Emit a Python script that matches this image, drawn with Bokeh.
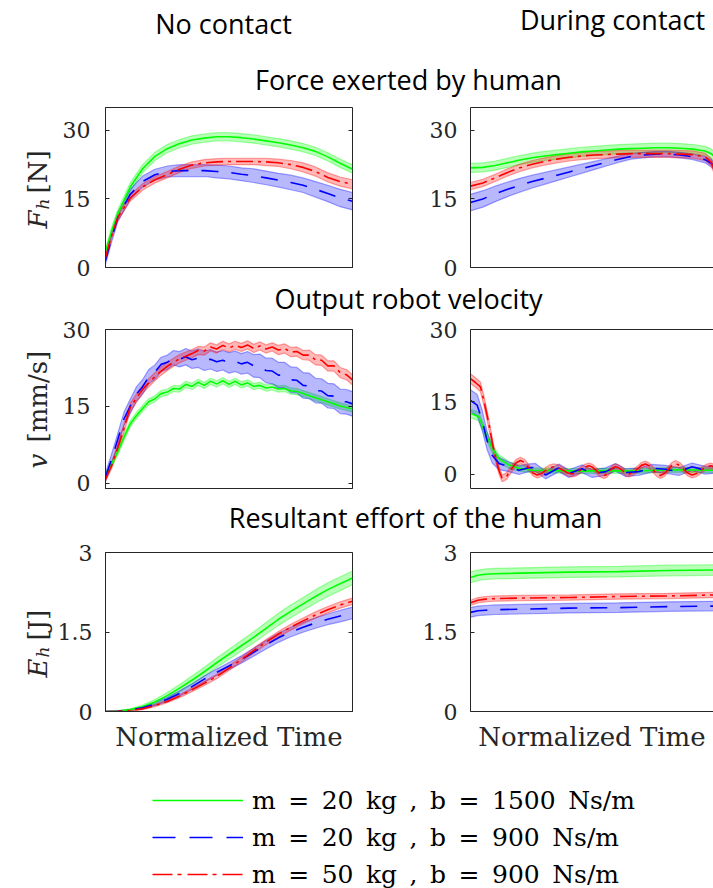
import math
from bokeh.plotting import figure
from bokeh.layouts import row, column
from bokeh.models import (Range1d, LinearAxis, FixedTicker, CustomJSTickFormatter,
                          Legend, LegendItem)
from bokeh.core.properties import value
from bokeh.embed import file_html
from bokeh.resources import INLINE

# ---------------- data ----------------
# Force exerted by human, no contact
F_NC_X = [0, 0.025, 0.05, 0.1, 0.15, 0.2, 0.25, 0.3, 0.35, 0.4, 0.45, 0.5, 0.55, 0.6,
          0.65, 0.7, 0.75, 0.8, 0.85, 0.9, 0.95, 1.0]
F_NC_G = [3.5, 8.0, 11.8, 17.6, 21.6, 24.3, 26.0, 27.1, 27.9, 28.3, 28.6, 28.6, 28.4, 28.1,
          27.7, 27.3, 26.8, 26.2, 25.4, 24.2, 22.8, 21.5]
F_NC_G_SD = [0.6, 0.8, 0.9, 0.9, 0.9, 0.9, 0.9, 0.9, 0.9, 0.9, 0.9, 0.9, 0.9, 0.9,
             0.9, 0.9, 0.9, 0.9, 0.9, 0.9, 0.9, 0.9]
F_NC_B = [1.5, 6.5, 11.0, 16.0, 18.8, 20.3, 21.0, 21.2, 21.2, 21.2, 21.0, 20.8, 20.4, 20.1,
          19.6, 19.1, 18.6, 18.0, 17.1, 16.2, 15.2, 14.5]
F_NC_B_SD = [0.8, 0.9, 1.0, 1.1, 1.2, 1.2, 1.2, 1.3, 1.3, 1.3, 1.4, 1.4, 1.4, 1.5,
             1.5, 1.5, 1.6, 1.6, 1.7, 1.8, 1.9, 1.9]
F_NC_R = [2.2, 7.0, 11.0, 15.2, 17.6, 19.2, 20.3, 21.5, 22.4, 22.9, 23.1, 23.2, 23.2, 23.2,
          23.1, 22.9, 22.5, 21.9, 21.0, 19.7, 18.8, 18.2]
F_NC_R_SD = [0.5, 0.6, 0.7, 0.7, 0.7, 0.7, 0.7, 0.7, 0.7, 0.7, 0.7, 0.7, 0.7, 0.7,
             0.8, 0.8, 0.9, 1.0, 1.0, 1.0, 1.0, 1.0]

# Force exerted by human, during contact
F_C_X = [0, 0.05, 0.1, 0.15, 0.2, 0.25, 0.3, 0.35, 0.4, 0.45, 0.5, 0.55, 0.6, 0.65,
         0.7, 0.75, 0.8, 0.85, 0.9, 0.95, 0.975, 1.0]
F_C_G = [21.8, 21.9, 22.3, 22.9, 23.5, 24.0, 24.4, 24.7, 25.0, 25.3, 25.5, 25.7, 25.9, 26.0,
         26.1, 26.2, 26.2, 26.1, 25.9, 25.5, 24.9, 23.5]
F_C_G_SD = [1.0, 1.0, 1.0, 1.0, 1.0, 1.0, 1.0, 1.0, 1.0, 1.0, 1.0, 1.0, 1.0, 1.0,
            1.0, 1.0, 1.0, 1.0, 1.0, 1.0, 1.0, 1.0]
F_C_B = [14.2, 15.0, 16.1, 17.1, 18.0, 18.8, 19.5, 20.2, 20.9, 21.6, 22.3, 23.0, 23.7, 24.3,
         24.6, 24.8, 24.8, 24.6, 24.2, 23.6, 22.8, 21.5]
F_C_B_SD = [1.8, 1.8, 1.7, 1.6, 1.5, 1.4, 1.3, 1.2, 1.1, 1.0, 0.9, 0.8, 0.7, 0.6,
            0.6, 0.6, 0.6, 0.6, 0.6, 0.7, 0.8, 0.9]
F_C_R = [17.8, 18.5, 19.6, 20.8, 21.8, 22.6, 23.2, 23.7, 24.1, 24.4, 24.6, 24.7, 24.8, 24.9,
         24.9, 24.9, 24.9, 24.8, 24.7, 24.2, 23.0, 19.5]
F_C_R_SD = [0.8, 0.8, 0.8, 0.8, 0.8, 0.8, 0.8, 0.8, 0.8, 0.8, 0.8, 0.8, 0.8, 0.8,
            0.8, 0.8, 0.8, 0.8, 0.8, 0.8, 0.8, 0.8]

# Output robot velocity, no contact
V_NC_X = [0, 0.025, 0.05, 0.075, 0.1, 0.125, 0.15, 0.175, 0.2, 0.225, 0.25, 0.275, 0.3,
          0.325, 0.35, 0.375, 0.4, 0.425, 0.45, 0.475, 0.5, 0.525, 0.55, 0.575, 0.6,
          0.625, 0.65, 0.675, 0.7, 0.725, 0.75, 0.775, 0.8, 0.825, 0.85, 0.875, 0.9,
          0.925, 0.95, 0.975, 1.0]
V_NC_G = [1.5, 3.8, 6.2, 9.0, 11.6, 13.2, 14.6, 15.9, 16.5, 17.5, 17.8, 18.5, 18.4,
          19.3, 18.9, 19.7, 19.1, 19.9, 19.4, 20.0, 19.3, 19.9, 19.2, 19.6, 18.9,
          19.1, 18.6, 18.8, 18.4, 18.5, 18.0, 17.9, 17.5, 17.1, 16.7, 16.3, 15.9,
          15.5, 15.1, 14.8, 14.5]
V_NC_G_SD = [0.5, 0.6, 0.6, 0.6, 0.6, 0.6, 0.6, 0.6, 0.6, 0.6, 0.6, 0.6, 0.6,
             0.6, 0.6, 0.6, 0.6, 0.6, 0.6, 0.6, 0.6, 0.6, 0.6, 0.6, 0.6,
             0.6, 0.6, 0.6, 0.6, 0.6, 0.6, 0.6, 0.6, 0.6, 0.6, 0.6, 0.6,
             0.6, 0.6, 0.6, 0.6]
V_NC_B = [1.2, 4.8, 8.6, 12.6, 15.0, 17.4, 18.8, 20.8, 21.7, 23.2, 23.6, 24.5, 24.2,
          24.7, 24.1, 24.4, 23.9, 24.2, 23.7, 24.0, 23.5, 23.8, 23.3, 23.6, 22.9,
          22.9, 22.0, 21.9, 21.1, 21.1, 20.2, 20.1, 19.1, 19.0, 18.1, 18.0, 17.1,
          17.0, 16.0, 15.9, 15.5]
V_NC_B_SD = [0.8, 1.0, 1.2, 1.3, 1.4, 1.4, 1.4, 1.4, 1.4, 1.4, 1.4, 1.4, 1.5,
             1.6, 1.7, 1.8, 1.9, 1.9, 1.9, 1.9, 2.0, 2.0, 2.0, 2.1, 2.2,
             2.3, 2.4, 2.5, 2.5, 2.5, 2.5, 2.5, 2.5, 2.5, 2.4, 2.4, 2.4,
             2.4, 2.4, 2.4, 2.4]
V_NC_R = [0.8, 3.5, 7.0, 10.8, 14.8, 16.6, 18.3, 19.6, 20.8, 21.9, 22.8, 23.6, 24.3,
          24.8, 25.3, 25.9, 25.8, 26.6, 26.2, 26.9, 26.4, 26.9, 26.5, 27.0, 26.3,
          26.8, 26.2, 26.6, 26.0, 26.3, 25.6, 25.7, 25.0, 25.0, 24.1, 24.0, 22.9,
          22.9, 21.6, 21.2, 20.2]
V_NC_R_SD = [0.4, 0.6, 0.7, 0.8, 0.8, 0.8, 0.8, 0.8, 0.8, 0.8, 0.8, 0.8, 0.8,
             0.8, 0.8, 0.8, 0.8, 0.8, 0.8, 0.8, 0.8, 0.8, 0.8, 0.8, 0.8,
             0.8, 0.8, 0.8, 0.9, 0.9, 0.9, 0.9, 0.9, 1.0, 1.0, 1.0, 1.0,
             1.0, 1.0, 1.0, 1.0]

# Output robot velocity, during contact
V_C_G_X = [0, 0.034, 0.061, 0.088, 0.115, 0.155, 0.196, 0.25, 0.35, 0.45, 0.55, 0.65,
           0.75, 0.85, 0.95, 1.0]
V_C_G = [12.6, 11.9, 8.4, 5.3, 3.2, 1.9, 1.2, 0.8, 0.7, 0.6, 0.7, 0.6, 0.8, 0.9, 0.8, 0.8]
V_C_G_SD = [0.9, 0.9, 0.9, 0.9, 0.8, 0.7, 0.6, 0.5, 0.5, 0.5, 0.5, 0.5, 0.5, 0.5, 0.5, 0.5]
V_C_B_X = [0, 0.027, 0.047, 0.067, 0.088, 0.115, 0.155, 0.196, 0.236, 0.263, 0.304, 0.358,
           0.398, 0.452, 0.493, 0.547, 0.587, 0.628, 0.681, 0.735, 0.789, 0.843, 0.897,
           0.951, 1.0]
V_C_B = [15.3, 14.3, 11.2, 7.0, 3.9, 2.2, 1.5, 0.8, 1.3, 1.4, -0.2, 1.3, 0.1, 1.1, 0.1,
         0.5, 1.4, 0.3, 0.5, 1.2, 1.0, 0.5, 1.5, 0.8, 1.0]
V_C_B_SD = [2.2, 2.2, 2.1, 1.9, 1.6, 1.3, 1.0, 0.9, 0.8, 0.8, 0.8, 0.8, 0.8, 0.8, 0.8,
            0.8, 0.8, 0.8, 0.8, 0.8, 0.8, 0.8, 0.8, 0.8, 0.8]
V_C_R_X = [0, 0.02, 0.04, 0.054, 0.074, 0.094, 0.115, 0.128, 0.147, 0.165, 0.184, 0.202,
           0.22, 0.236, 0.253, 0.27, 0.287, 0.303, 0.32, 0.337, 0.356, 0.375, 0.394,
           0.412, 0.428, 0.445, 0.462, 0.479, 0.495, 0.51, 0.525, 0.54, 0.552, 0.563,
           0.575, 0.587, 0.6, 0.614, 0.628, 0.641, 0.658, 0.675, 0.692, 0.709, 0.724,
           0.739, 0.754, 0.769, 0.785, 0.8, 0.815, 0.83, 0.847, 0.863, 0.88, 0.897,
           0.916, 0.935, 0.953, 0.972, 1.0]
V_C_R = [19.8, 19.0, 18.1, 15.3, 10.5, 5.0, 0.8, -0.9, -0.4, 1.0, 2.3, 2.8, 2.4, 1.3, 0.2,
         -0.2, 0.1, 0.7, 1.3, 1.5, 1.3, 0.8, 0.2, 0.0, 0.2, 0.8, 1.4, 1.7, 1.4, 0.7, 0.0,
         -0.3, -0.1, 0.6, 1.2, 1.5, 1.3, 0.8, 0.2, 0.0, 0.3, 1.0, 1.8, 2.1, 1.7, 0.9, 0.1,
         -0.3, 0.1, 0.9, 1.8, 2.2, 1.8, 1.0, 0.2, -0.2, 0.1, 0.8, 1.4, 1.7, 1.2]
V_C_R_SD = [1.0, 1.0, 1.0, 1.0, 1.0, 0.9, 0.8, 0.7, 0.7, 0.7, 0.7, 0.7, 0.6, 0.6, 0.6,
            0.6, 0.6, 0.6, 0.6, 0.6, 0.6, 0.6, 0.6, 0.6, 0.6, 0.6, 0.6, 0.6, 0.6, 0.6,
            0.6, 0.6, 0.6, 0.6, 0.6, 0.6, 0.6, 0.6, 0.6, 0.6, 0.6, 0.6, 0.6, 0.6, 0.6,
            0.6, 0.6, 0.6, 0.6, 0.6, 0.6, 0.6, 0.6, 0.6, 0.6, 0.6, 0.6, 0.6, 0.6, 0.6,
            0.6]

# Resultant effort of the human, no contact
E_NC_X = [0, 0.05, 0.1, 0.15, 0.2, 0.25, 0.3, 0.35, 0.4, 0.45, 0.5, 0.55, 0.6, 0.65,
          0.7, 0.75, 0.8, 0.85, 0.9, 0.95, 1.0]
E_NC_G = [0, 0.01, 0.035, 0.09, 0.18, 0.30, 0.44, 0.59, 0.75, 0.92, 1.08, 1.24, 1.40, 1.57,
          1.74, 1.89, 2.03, 2.17, 2.30, 2.41, 2.52]
E_NC_G_SD = [0, 0.005, 0.015, 0.03, 0.045, 0.06, 0.07, 0.08, 0.085, 0.09, 0.095, 0.10,
             0.105, 0.11, 0.115, 0.12, 0.12, 0.125, 0.13, 0.13, 0.13]
E_NC_B = [0, 0.005, 0.03, 0.07, 0.14, 0.23, 0.34, 0.47, 0.61, 0.74, 0.86, 0.98, 1.12, 1.26,
          1.39, 1.50, 1.59, 1.67, 1.74, 1.80, 1.86]
E_NC_B_SD = [0, 0.004, 0.01, 0.02, 0.03, 0.04, 0.05, 0.055, 0.06, 0.06, 0.065, 0.07, 0.075,
             0.08, 0.085, 0.09, 0.095, 0.10, 0.10, 0.11, 0.11]
E_NC_R = [0, 0.003, 0.02, 0.05, 0.11, 0.19, 0.29, 0.41, 0.53, 0.66, 0.82, 0.98, 1.15, 1.31,
          1.46, 1.59, 1.71, 1.82, 1.92, 2.01, 2.08]
E_NC_R_SD = [0, 0.003, 0.01, 0.015, 0.02, 0.025, 0.03, 0.035, 0.04, 0.04, 0.045, 0.045,
             0.05, 0.05, 0.05, 0.055, 0.055, 0.06, 0.06, 0.06, 0.06]

# Resultant effort of the human, during contact
E_C_X = [0, 0.03, 0.06, 0.1, 0.2, 0.4, 0.6, 0.8, 1.0]
E_C_G = [2.53, 2.57, 2.59, 2.60, 2.61, 2.63, 2.64, 2.66, 2.67]
E_C_G_SD = [0.10, 0.10, 0.10, 0.10, 0.10, 0.10, 0.10, 0.10, 0.10]
E_C_B = [1.87, 1.90, 1.91, 1.92, 1.93, 1.95, 1.96, 1.98, 1.99]
E_C_B_SD = [0.09, 0.09, 0.09, 0.09, 0.09, 0.09, 0.09, 0.09, 0.09]
E_C_R = [2.05, 2.10, 2.12, 2.13, 2.14, 2.15, 2.17, 2.18, 2.20]
E_C_R_SD = [0.05, 0.05, 0.05, 0.05, 0.05, 0.05, 0.05, 0.05, 0.05]

F_TICKS = [0, 15, 30]
V_TICKS = [0, 15, 30]
E_TICKS = [0, 1.5, 3]

LEGEND_LABELS = [
    "m\u2002=\u200220\u2002kg\u2002,\u2002b\u2002=\u20021500\u2002Ns/m",
    "m\u2002=\u200220\u2002kg\u2002,\u2002b\u2002=\u2002900\u2002Ns/m",
    "m\u2002=\u200250\u2002kg\u2002,\u2002b\u2002=\u2002900\u2002Ns/m",
]

# ---------------- styling ----------------
AX = "#262626"
SERIF = "DejaVu Serif"
SANS = "Open Sans"
COLORS = {"g": "#00ff00", "b": "#0000ff", "r": "#ff0000"}
DASH = {"g": "solid", "b": "17 13", "r": "17 5 3 5"}
LEG_DASH = {"g": "solid", "b": "23 14", "r": "20 5 4 6"}


def panel(width, height, bl, br, bt, bb, xmax, yrange, ticks, is_left, standoff,
          series, xlabel=None):
    p = figure(width=width, height=height, x_range=Range1d(0, xmax),
               y_range=Range1d(*yrange), x_axis_type=None, y_axis_type=None,
               output_backend="svg", toolbar_location=None,
               min_border_left=bl, min_border_right=br,
               min_border_top=bt, min_border_bottom=bb)
    p.outline_line_color = AX if is_left else None
    p.background_fill_color = "white"
    p.border_fill_color = "white"
    yax = LinearAxis(ticker=FixedTicker(ticks=ticks),
                     formatter=CustomJSTickFormatter(code="return tick.toString();"),
                     axis_line_color=AX, major_tick_in=4, major_tick_out=0,
                     major_tick_line_color=AX, minor_tick_line_color=None,
                     major_label_standoff=standoff, major_label_text_font=SERIF,
                     major_label_text_font_size="22px", major_label_text_color=AX)
    p.add_layout(yax, "left")
    if is_left:
        rax = LinearAxis(ticker=FixedTicker(ticks=ticks),
                         formatter=CustomJSTickFormatter(code="return '';"),
                         axis_line_color=None, major_tick_in=4, major_tick_out=0,
                         major_tick_line_color=AX, minor_tick_line_color=None,
                         major_label_standoff=0)
        p.add_layout(rax, "right")
    else:
        tax = LinearAxis(ticker=FixedTicker(ticks=[]), axis_line_color=AX,
                         major_tick_line_color=None, minor_tick_line_color=None,
                         major_label_standoff=0, major_tick_out=0)
        p.add_layout(tax, "above")
    bax = LinearAxis(ticker=FixedTicker(ticks=[]), axis_line_color=AX,
                     major_tick_line_color=None, minor_tick_line_color=None,
                     major_label_standoff=0, major_tick_out=0)
    if xlabel:
        bax.axis_label = xlabel
        bax.axis_label_text_font = SERIF
        bax.axis_label_text_font_size = "26px"
        bax.axis_label_text_font_style = "normal"
        bax.axis_label_text_color = AX
        bax.axis_label_standoff = 10
    p.add_layout(bax, "below")
    for key, x, m, s in series:
        lo = [a - b for a, b in zip(m, s)]
        hi = [a + b for a, b in zip(m, s)]
        p.varea(x=x, y1=lo, y2=hi, fill_color=COLORS[key], fill_alpha=0.28)
        p.line(x, lo, line_color=COLORS[key], line_alpha=0.35, line_width=1.2)
        p.line(x, hi, line_color=COLORS[key], line_alpha=0.35, line_width=1.2)
    for key, x, m, s in series:
        p.line(x, m, line_color=COLORS[key], line_width=1.6, line_dash=DASH[key])
    return p


def canvas(x0, x1, y0, y1):
    p = figure(width=x1 - x0, height=y1 - y0, x_range=Range1d(x0, x1),
               y_range=Range1d(-y1, -y0), x_axis_type=None, y_axis_type=None,
               output_backend="svg", toolbar_location=None, min_border=0)
    p.outline_line_color = None
    p.background_fill_color = "white"
    p.border_fill_color = "white"
    return p


def put(p, x, y, txt, size, font=SANS, align="center", angle=0.0, style="normal",
        color="black"):
    p.text(x=[x], y=[-y], text=[txt], text_font=value(font), text_font_size=size,
           text_align=align, text_baseline="middle", angle=angle,
           text_font_style=style, text_color=color)


# ---------------- panels ----------------
YL = 53          # width of the y-label strip
LW = 412 - YL    # width of left-column figures
RW = 713 - 412   # width of right-column figures
BL = 105 - YL    # left border of left-column figures

L1 = panel(LW, 182, BL, 60, 10, 12, 1.0, (0, 35), F_TICKS, True, 15,
           [("g", F_NC_X, F_NC_G, F_NC_G_SD), ("b", F_NC_X, F_NC_B, F_NC_B_SD),
            ("r", F_NC_X, F_NC_R, F_NC_R_SD)])
R1 = panel(RW, 182, 58, 0, 10, 12, 0.984, (0, 35), F_TICKS, False, 13,
           [("g", F_C_X, F_C_G, F_C_G_SD), ("b", F_C_X, F_C_B, F_C_B_SD),
            ("r", F_C_X, F_C_R, F_C_R_SD)])
L2 = panel(LW, 183, BL, 60, 13, 11, 1.0, (-1, 30), V_TICKS, True, 15,
           [("g", V_NC_X, V_NC_G, V_NC_G_SD), ("b", V_NC_X, V_NC_B, V_NC_B_SD),
            ("r", V_NC_X, V_NC_R, V_NC_R_SD)])
R2 = panel(RW, 183, 58, 0, 13, 11, 0.984, (-3, 30), V_TICKS, False, 13,
           [("g", V_C_G_X, V_C_G, V_C_G_SD), ("b", V_C_B_X, V_C_B, V_C_B_SD),
            ("r", V_C_R_X, V_C_R, V_C_R_SD)])
L3 = panel(LW, 223, BL, 60, 15, 49, 1.0, (0, 3), E_TICKS, True, 13,
           [("g", E_NC_X, E_NC_G, E_NC_G_SD), ("b", E_NC_X, E_NC_B, E_NC_B_SD),
            ("r", E_NC_X, E_NC_R, E_NC_R_SD)], xlabel="Normalized Time")
R3 = panel(RW, 223, 58, 0, 15, 49, 0.984, (0, 3), E_TICKS, False, 13,
           [("g", E_C_X, E_C_G, E_C_G_SD), ("b", E_C_X, E_C_B, E_C_B_SD),
            ("r", E_C_X, E_C_R, E_C_R_SD)], xlabel="Normalized Time")

# ---------------- texts ----------------
header = canvas(0, 713, 0, 50)
put(header, 223, 23, "No contact", "27px")
put(header, 612, 18.5, "During contact", "27px")

t1 = canvas(YL, 713, 50, 97)
put(t1, 408, 79, "Force exerted by human", "27px")
t2 = canvas(YL, 713, 279, 316)
put(t2, 408, 298, "Output robot velocity", "27px")
t3 = canvas(YL, 713, 499, 537)
put(t3, 415, 517, "Resultant effort of the human", "27px")

ylab = canvas(0, YL, 50, 760)
A = math.pi / 2
put(ylab, 37, 228, "F", "26px", font=SERIF, align="left", angle=A, style="italic", color=AX)
put(ylab, 42, 209, "h", "17px", font=SERIF, align="left", angle=A, style="italic", color=AX)
put(ylab, 37, 193, "[N]", "26px", font=SERIF, align="left", angle=A, color=AX)
put(ylab, 37, 468, "v", "26px", font=SERIF, align="left", angle=A, style="italic", color=AX)
put(ylab, 37, 442, "[mm/s]", "26px", font=SERIF, align="left", angle=A, color=AX)
put(ylab, 37, 677, "E", "26px", font=SERIF, align="left", angle=A, style="italic", color=AX)
put(ylab, 42, 657, "h", "17px", font=SERIF, align="left", angle=A, style="italic", color=AX)
put(ylab, 37, 640, "[J]", "26px", font=SERIF, align="left", angle=A, color=AX)

# ---------------- legend ----------------
leg = canvas(0, 713, 760, 888)
items = []
for key, lab in zip(["g", "b", "r"], LEGEND_LABELS):
    r = leg.line(x=[float("nan")], y=[float("nan")], line_color=COLORS[key],
                 line_width=1.6, line_dash=LEG_DASH[key])
    items.append(LegendItem(label=lab, renderers=[r]))
legend = Legend(items=items, location=(152, -1), glyph_width=91, glyph_height=30,
                spacing=7, label_standoff=9, padding=0, margin=0,
                border_line_color=None, background_fill_alpha=0,
                label_text_font=SERIF, label_text_font_size="25px",
                label_text_color="black", label_height=30)
leg.add_layout(legend)

inner = column(t1, row(L1, R1), t2, row(L2, R2), t3, row(L3, R3))
page = column(header, row(ylab, inner), leg)

with open("out.html", "w") as f:
    f.write(file_html(page, INLINE))
